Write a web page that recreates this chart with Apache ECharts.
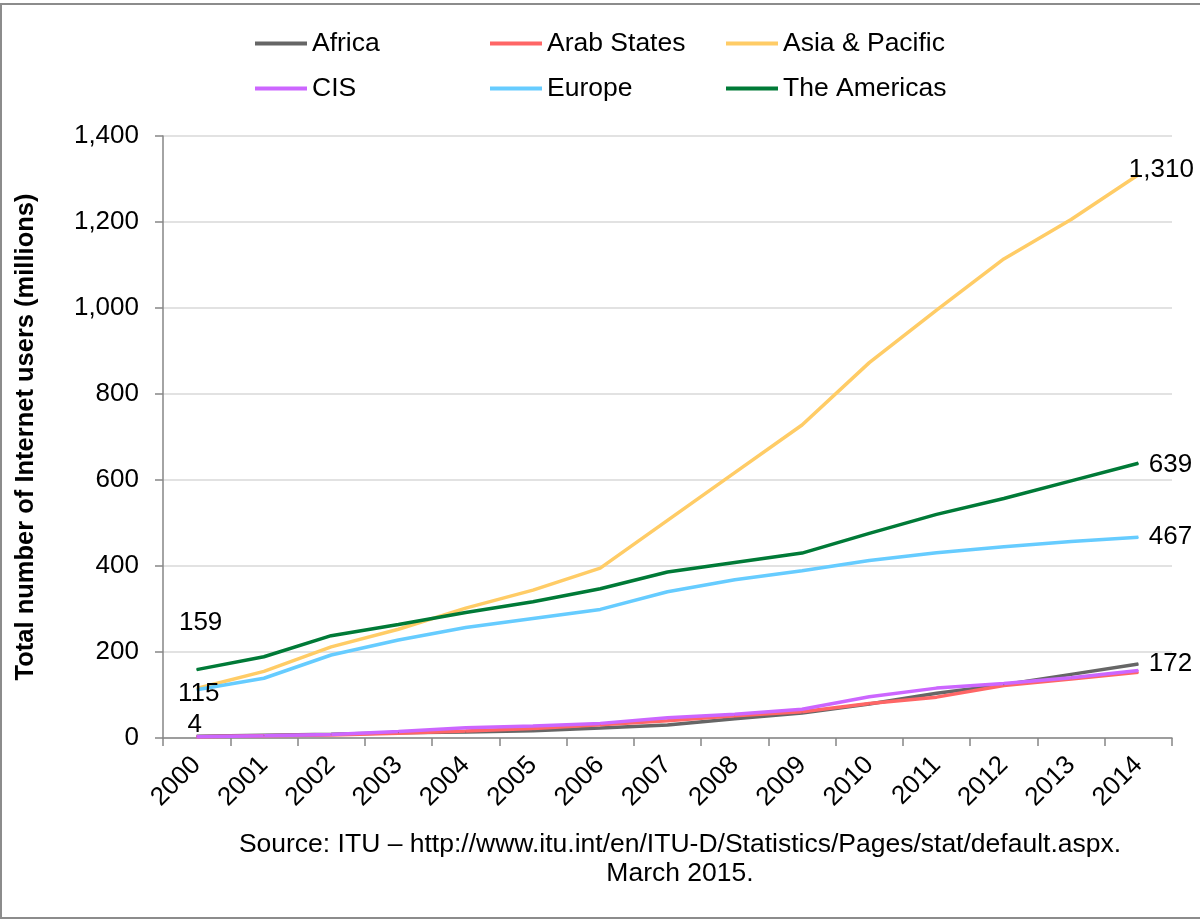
<!DOCTYPE html>
<html>
<head>
<meta charset="utf-8">
<script src="https://cdn.jsdelivr.net/npm/echarts@6/dist/echarts.min.js"></script>
<style>
  html, body { margin: 0; padding: 0; background: #fff; }
  #chart { width: 1200px; height: 919px; }
</style>
</head>
<body>
<div id="chart"></div>
<script>
// values (millions of users)
const years = ['2000', '2001', '2002', '2003', '2004', '2005', '2006', '2007', '2008', '2009', '2010', '2011', '2012', '2013', '2014']
const africa = [4, 6.5, 9, 12, 14, 17, 23, 30, 45, 58, 79, 104, 124, 148, 172]
const arabStates = [3, 5, 7, 11, 16, 22, 31, 40, 52, 61, 80, 95, 122, 137, 153]
const asiaPacific = [115, 155, 212, 253, 302, 344, 395, 506, 617, 728, 873, 995, 1114, 1206, 1310]
const cis = [3, 5, 8, 15, 24, 28, 34, 47, 55, 67, 96, 116, 127, 140, 157]
const europe = [112, 139, 193, 228, 257, 278, 299, 340, 368, 389, 413, 431, 445, 457, 467]
const americas = [159, 189, 238, 264, 292, 317, 347, 386, 408, 430, 476, 520, 557, 598, 639]

const FONT = '"Liberation Sans", Arial, sans-serif'

const SERIES = [
  { name: 'Africa', data: africa, color: '#666666' },
  { name: 'Arab States', data: arabStates, color: '#FF6666' },
  { name: 'Asia & Pacific', data: asiaPacific, color: '#FFCC66' },
  { name: 'CIS', data: cis, color: '#CC66FF' },
  { name: 'Europe', data: europe, color: '#66CCFF' },
  { name: 'The Americas', data: americas, color: '#007A37' },
]

// which points carry a value label, and where it sits
const LABELS = {
  'Africa': { 0: { position: 'top', distance: 0, offset: [-2, 2] }, 14: { position: 'right', distance: 10 } },
  'Asia & Pacific': { 0: { position: 'inside', offset: [2, 5] }, 14: { position: 'right', distance: 5, offset: [-15, -5] } },
  'Europe': { 14: { position: 'right', distance: 10 } },
  'The Americas': { 0: { position: 'top', distance: 33, offset: [4, 0] }, 14: { position: 'right', distance: 10, offset: [0, 2] } },
}

const fmt = v => Math.round(v).toLocaleString('en-US')

function buildData(s) {
  const marks = LABELS[s.name] || {}
  return s.data.map((v, i) => {
    if (!marks[i]) return v
    return {
      value: v,
      label: { show: true, formatter: p => fmt(p.value), color: '#000', fontSize: 26, fontFamily: FONT, ...marks[i] },
    }
  })
}

// legend laid out as 2 rows x 3 columns, one legend per item
const LEGEND_POS = [[255, 30], [490, 30], [726, 30], [255, 75], [490, 75], [726, 75]]

const chart = echarts.init(document.getElementById('chart'), null, { renderer: 'canvas' })

chart.setOption({
  animation: false,
  backgroundColor: '#fff',
  textStyle: { fontFamily: FONT },
  grid: { left: 163, right: 28, top: 136, bottom: 181 },
  legend: SERIES.map((s, i) => ({
    data: [s.name],
    left: LEGEND_POS[i][0],
    top: LEGEND_POS[i][1],
    padding: 0,
    icon: 'rect',
    itemWidth: 52,
    itemHeight: 4,
    itemGap: 0,
    selectedMode: false,
    textStyle: { fontSize: 26.5, color: '#000', fontFamily: FONT },
  })),
  xAxis: {
    type: 'category',
    data: years,
    boundaryGap: true,
    axisLine: { lineStyle: { color: '#868686', width: 1.5 } },
    axisTick: { show: true, interval: 0, length: 8, lineStyle: { color: '#868686', width: 1.5 } },
    axisLabel: { interval: 0, rotate: 45, margin: 23, fontSize: 26, color: '#000', fontFamily: FONT },
  },
  yAxis: {
    type: 'value',
    min: 0,
    max: 1400,
    interval: 200,
    name: 'Total number of Internet users (millions)',
    nameLocation: 'middle',
    nameRotate: 90,
    nameGap: 124,
    nameTextStyle: { fontSize: 25.5, fontWeight: 'bold', color: '#000', fontFamily: FONT },
    axisLine: { show: true, lineStyle: { color: '#868686', width: 1.5 } },
    axisTick: { show: true, length: 8, lineStyle: { color: '#868686', width: 1.5 } },
    axisLabel: { margin: 24, fontSize: 26, color: '#000', fontFamily: FONT, formatter: v => fmt(v) },
    splitLine: { lineStyle: { color: '#D9D9D9', width: 1.5 } },
  },
  series: SERIES.map(s => ({
    name: s.name,
    type: 'line',
    color: s.color,
    symbol: 'circle',
    symbolSize: 1,
    showAllSymbol: true,
    itemStyle: { color: s.color },
    lineStyle: { color: s.color, width: 3.5 },
    emphasis: { disabled: true },
    data: buildData(s),
  })),
  graphic: [
    {
      type: 'rect',
      silent: true,
      shape: { x: 1, y: 4, width: 1210, height: 914 },
      style: { fill: 'none', stroke: '#8C8C8C', lineWidth: 2 },
    },
    {
      type: 'text',
      x: 680,
      y: 830,
      silent: true,
      style: {
        text: 'Source: ITU \u2013 http://www.itu.int/en/ITU-D/Statistics/Pages/stat/default.aspx.\nMarch 2015.',
        textAlign: 'center',
        fill: '#000',
        font: '26.5px ' + FONT,
        lineHeight: 29,
      },
    },
  ],
})
</script>
</body>
</html>
